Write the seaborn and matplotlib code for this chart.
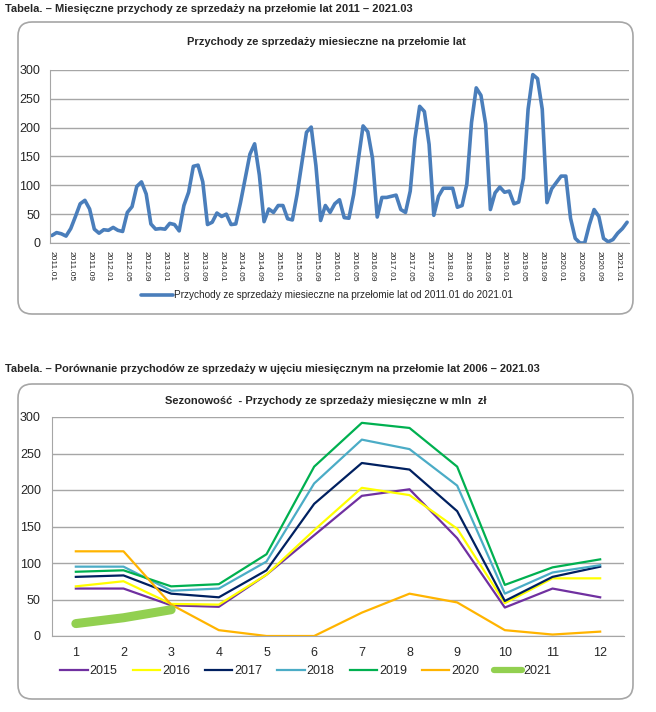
import numpy as np
import matplotlib
matplotlib.use("Agg")
import matplotlib.pyplot as plt
from matplotlib.patches import FancyBboxPatch
import seaborn as sns

# monthly revenue (mln zl), one list per year
rev_2011 = [13, 18, 16, 12, 25, 46, 68, 74, 59, 24, 17, 23]
rev_2012 = [22, 27, 22, 20, 53, 63, 98, 106, 85, 33, 24, 25]
rev_2013 = [24, 34, 32, 21, 65, 88, 133, 135, 106, 32, 36, 52]
rev_2014 = [46, 50, 32, 33, 70, 112, 154, 172, 118, 37, 59, 53]
rev_2015 = [65, 65, 42, 40, 84, 138, 192, 201, 134, 39, 65, 53]
rev_2016 = [68, 75, 44, 43, 84, 145, 203, 193, 147, 45, 79, 79]
rev_2017 = [81, 83, 58, 53, 90, 181, 237, 228, 171, 48, 81, 95]
rev_2018 = [95, 95, 62, 65, 102, 209, 269, 256, 206, 58, 87, 97]
rev_2019 = [88, 90, 68, 71, 112, 232, 292, 285, 232, 70, 94, 105]
rev_2020 = [116, 116, 43, 8, 0, 0, 32, 58, 46, 8, 2, 6]
rev_2021 = [17, 25, 36]

years = [2015, 2016, 2017, 2018, 2019, 2020, 2021]
season_colors = ["#7030A0", "#FFFF00", "#002060", "#4BACC6", "#00B050", "#FFB400", "#92D050"]
season_widths = [1.6, 1.6, 1.6, 1.6, 1.6, 1.6, 6.5]
months = list(range(1, 13))

all_years = [rev_2011, rev_2012, rev_2013, rev_2014, rev_2015, rev_2016,
             rev_2017, rev_2018, rev_2019, rev_2020, rev_2021]
monthly = [v for yr in all_years for v in yr]
month_labels = [f"{2011 + i // 12}.{i % 12 + 1:02d}" for i in range(len(monthly))]

sns.set_style("white")
plt.rcParams["font.family"] = ["Liberation Sans Narrow", "Liberation Sans", "DejaVu Sans"]

W, H = 656, 712
fig = plt.figure(figsize=(W / 100, H / 100), dpi=100)


def px_rect(l, t, r, b):
    return [l / W, 1 - b / H, (r - l) / W, (b - t) / H]


# background layer in pixel coordinates for boxes and headings
bg = fig.add_axes([0, 0, 1, 1], zorder=0)
bg.set_xlim(0, W)
bg.set_ylim(H, 0)
bg.axis("off")
for (x0, y0, w, h) in [(18, 22, 615, 292), (18, 384, 615, 315)]:
    bg.add_patch(FancyBboxPatch((x0, y0), w, h, boxstyle="round,pad=0,rounding_size=14",
                                fc="white", ec="#A6A6A6", lw=1.2))

bg.text(5, 9, "Tabela. – Miesięczne przychody ze sprzedaży na przełomie lat 2011 – 2021.03",
        fontsize=8, fontweight="bold", va="center", ha="left")
bg.text(326, 42, "Przychody ze sprzedaży miesieczne na przełomie lat",
        fontsize=8, fontweight="bold", va="center", ha="center")
bg.text(5, 369, "Tabela. – Porównanie przychodów ze sprzedaży w ujęciu miesięcznym na przełomie lat 2006 – 2021.03",
        fontsize=7.9, fontweight="bold", va="center", ha="left")
bg.text(326, 401, "Sezonowość  - Przychody ze sprzedaży miesięczne w mln  zł",
        fontsize=8, fontweight="bold", va="center", ha="center")

grid_col = "#A6A6A6"
text_col = "#262626"

# --- top chart: monthly revenue 2011.01 - 2021.03 ---
ax1 = fig.add_axes(px_rect(50, 70, 629, 243), zorder=2)
ax1.patch.set_alpha(0)
x_idx = np.arange(len(monthly))
sns.lineplot(x=x_idx, y=monthly, ax=ax1, color="#4A7EBB", lw=2.6,
             label="Przychody ze sprzedaży miesieczne na przełomie lat od 2011.01 do 2021.01")
ax1.set_xlim(-0.4, len(monthly) - 0.6)
ax1.set_ylim(0, 300)
ax1.set_yticks(range(0, 301, 50))
ax1.yaxis.grid(True, color=grid_col, lw=1)
ax1.set_axisbelow(True)
ax1.set_xticks(x_idx[::4])
ax1.set_xticklabels(month_labels[::4], rotation=270, fontsize=6, color=text_col)
ax1.tick_params(axis="y", labelsize=9, labelcolor=text_col, length=0, pad=7)
ax1.tick_params(axis="x", length=0, pad=6)
for s in ["top", "right"]:
    ax1.spines[s].set_visible(False)
ax1.spines["left"].set_color(grid_col)
ax1.spines["bottom"].set_color(grid_col)
ax1.legend(loc="center", bbox_to_anchor=(327 / W, 1 - 295 / H), bbox_transform=fig.transFigure,
           frameon=False, fontsize=7.2, handlelength=3.2, handletextpad=0.1)

# --- bottom chart: seasonality by year ---
ax2 = fig.add_axes(px_rect(52, 417, 624, 636), zorder=2)
ax2.patch.set_alpha(0)
for yr, vals, col, lw in zip(years, all_years[4:], season_colors, season_widths):
    sns.lineplot(x=months[:len(vals)], y=vals, ax=ax2, color=col, lw=lw, label=str(yr),
                 solid_capstyle="round" if lw > 3 else "projecting")
ax2.set_xlim(0.5, 12.5)
ax2.set_ylim(0, 300)
ax2.set_xticks(months)
ax2.set_yticks(range(0, 301, 50))
ax2.yaxis.grid(True, color=grid_col, lw=1)
ax2.set_axisbelow(True)
ax2.tick_params(axis="both", labelsize=9, labelcolor=text_col, length=0)
ax2.tick_params(axis="y", pad=8)
ax2.tick_params(axis="x", pad=8)
for s in ["top", "right"]:
    ax2.spines[s].set_visible(False)
ax2.spines["left"].set_color(grid_col)
ax2.spines["bottom"].set_color(grid_col)
leg = ax2.legend(loc="center", bbox_to_anchor=(306 / W, 1 - 671 / H), bbox_transform=fig.transFigure,
                 ncol=7, frameon=False, fontsize=9, handlelength=2.2, handletextpad=0.15,
                 columnspacing=1.2)
for line in leg.get_lines():
    line.set_linewidth(min(line.get_linewidth(), 4.5))

fig.savefig("out.png", dpi=100)
